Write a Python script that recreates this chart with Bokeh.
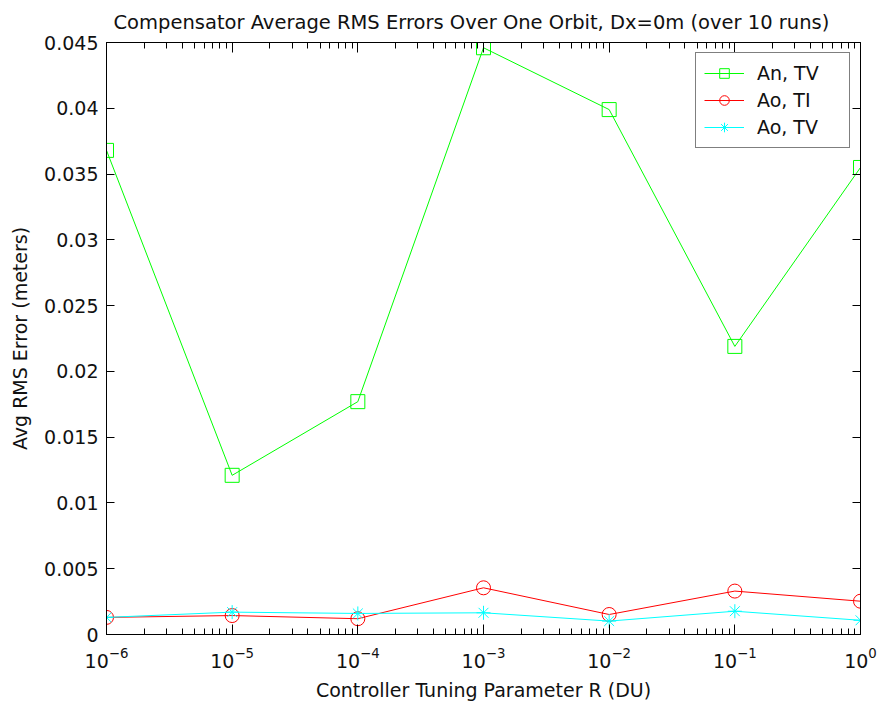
from bokeh.plotting import figure
from bokeh.models import LogAxis, LinearAxis, FixedTicker, Legend, LegendItem, Range1d
from bokeh.embed import file_html
from bokeh.resources import INLINE

# ---- data ----
r_values = [1e-6, 1e-5, 1e-4, 1e-3, 1e-2, 1e-1, 1e0]
an_tv = [0.0368, 0.0121, 0.0177, 0.0446, 0.0399, 0.0219, 0.0355]
ao_ti = [0.0013, 0.00144, 0.0012, 0.00355, 0.00152, 0.0033, 0.00253]
ao_tv = [0.0013, 0.0017, 0.0016, 0.00165, 0.00102, 0.00177, 0.00108]
series_names = ["An, TV", "Ao, TI", "Ao, TV"]
y_ticks = [0, 0.005, 0.01, 0.015, 0.02, 0.025, 0.03, 0.035, 0.04, 0.045]
y_tick_labels = ["0", "0.005", "0.01", "0.015", "0.02", "0.025", "0.03", "0.035", "0.04", "0.045"]
x_ticks = [1e-6, 1e-5, 1e-4, 1e-3, 1e-2, 1e-1, 1e0]
title_text = "Compensator Average RMS Errors Over One Orbit, Dx=0m (over 10 runs)"
x_label = "Controller Tuning Parameter R (DU)"
y_label = "Avg RMS Error (meters)"

FONT = "DejaVu Sans"
FS = "19px"
TXT = "#111111"

p = figure(width=878, height=703,
           x_axis_type="log", x_range=Range1d(1e-6, 1.0), y_range=Range1d(0, 0.045),
           output_backend="svg", toolbar_location=None,
           min_border_left=106, min_border_right=18, min_border_top=42, min_border_bottom=68)
p.background_fill_color = "white"
p.border_fill_color = "white"
p.outline_line_color = "black"
p.outline_line_width = 1
p.xgrid.visible = False
p.ygrid.visible = False

p.title.text = title_text
p.title.align = "left"
p.title.offset = 7
p.title.text_font = FONT
p.title.text_font_size = "19.5px"
p.title.text_font_style = "normal"
p.title.text_color = TXT
p.title.standoff = 17

def style_axis(ax, major_in=8, minor_in=0):
    ax.axis_line_color = "black"
    ax.major_tick_line_color = "black"
    ax.minor_tick_line_color = "black"
    ax.major_tick_in = major_in
    ax.major_tick_out = 0
    ax.minor_tick_in = minor_in
    ax.minor_tick_out = 0
    if minor_in == 0:
        ax.minor_tick_line_color = None
    ax.major_label_text_font = FONT
    ax.major_label_text_font_size = FS
    ax.major_label_text_color = TXT
    ax.axis_label_text_font = FONT
    ax.axis_label_text_font_size = FS
    ax.axis_label_text_font_style = "normal"
    ax.axis_label_text_color = TXT

minor_x = [m * d for d in x_ticks[:-1] for m in range(2, 10)]
xt_fixed = FixedTicker(ticks=x_ticks, minor_ticks=minor_x)
yt = FixedTicker(ticks=y_ticks)

xa = p.xaxis[0]
xa.ticker = xt_fixed
style_axis(xa, major_in=10, minor_in=6)
xa.axis_label = x_label
xa.major_label_standoff = 12
xa.axis_label_standoff = 8

ya = p.yaxis[0]
ya.ticker = yt
style_axis(ya, major_in=8)
ya.major_label_overrides = {t: l for t, l in zip(y_ticks, y_tick_labels)}
ya.axis_label = y_label
ya.major_label_standoff = 8
ya.axis_label_standoff = 10

top = LogAxis(ticker=xt_fixed)
style_axis(top, major_in=10, minor_in=6)
top.major_label_overrides = {t: "" for t in x_ticks}
top.major_label_text_font_size = "1px"
top.major_label_standoff = 0
p.add_layout(top, "above")

right = LinearAxis(ticker=yt)
style_axis(right, major_in=8)
right.major_label_overrides = {t: "" for t in y_ticks}
right.major_label_text_font_size = "1px"
right.major_label_standoff = 0
p.add_layout(right, "right")

colors = ["#00ff00", "#ff0000", "#00ffff"]
items = []
l1 = p.line(r_values, an_tv, line_color=colors[0], line_width=1)
m1 = p.scatter(r_values, an_tv, marker="square", size=14, line_color=colors[0], fill_color=None, line_width=1)
items.append(LegendItem(label=series_names[0], renderers=[l1, m1]))
l2 = p.line(r_values, ao_ti, line_color=colors[1], line_width=1)
m2 = p.scatter(r_values, ao_ti, marker="circle", size=14, line_color=colors[1], fill_color=None, line_width=1)
items.append(LegendItem(label=series_names[1], renderers=[l2, m2]))
l3 = p.line(r_values, ao_tv, line_color=colors[2], line_width=1)
m3 = p.scatter(r_values, ao_tv, marker="asterisk", size=14, line_color=colors[2], line_width=1)
items.append(LegendItem(label=series_names[2], renderers=[l3, m3]))

legend = Legend(items=items, location="top_right")
legend.border_line_color = "black"
legend.border_line_width = 1.2
legend.background_fill_color = "white"
legend.background_fill_alpha = 1
legend.label_text_font = FONT
legend.label_text_font_size = FS
legend.label_text_color = TXT
legend.glyph_width = 40
legend.glyph_height = 24
legend.label_height = 24
legend.label_width = 84
legend.label_standoff = 13
legend.padding = 8
legend.spacing = 3
legend.margin = 10
p.add_layout(legend, "center")

open("out.html", "w").write(file_html(p, INLINE))
